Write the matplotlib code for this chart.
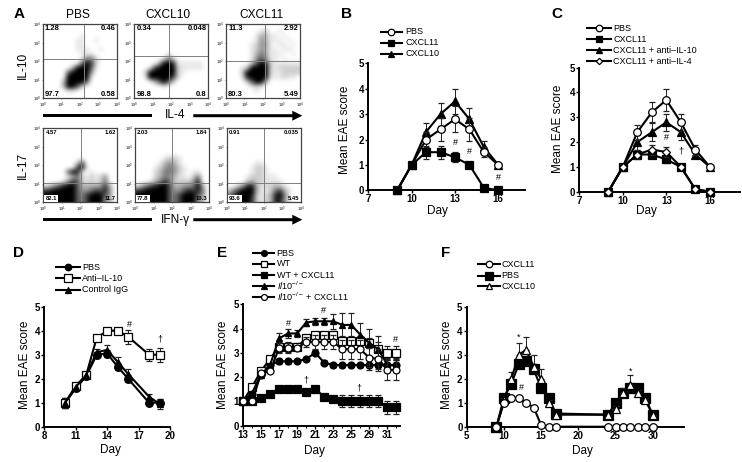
import matplotlib
matplotlib.use("Agg")
import matplotlib.pyplot as plt
from matplotlib.patches import FancyArrow
import numpy as np

plt.rcParams['font.family'] = ['Liberation Sans', 'DejaVu Sans']
plt.rcParams['mathtext.fontset'] = 'custom'
plt.rcParams['mathtext.rm'] = 'Liberation Sans'
plt.rcParams['mathtext.it'] = 'Liberation Sans:italic'

W, H = 742, 462

# panel A, darkness of the dot clouds read by eye, 0 to 9, top row first
blank = "0000000000000000"
il10Pbs = [blank, blank, "0000000010000000", "0000000110010000", "0000000110000000", "0000000111001000",
	"0000000011100000", "0000000015520000", "0000000069720000", "0000003999610000", "0000069999400000",
	"0000099999100000", "0000399996000000", "0000399620000000", "0000011000000000", blank]
il10Cxcl10 = [blank, blank, blank, blank, blank, blank, "0000000100000000", "0000001520000000",
	"0000039981111110", "0001799992111110", "0029999992100000", "0019999972000000", "0000369620000000",
	"0000001000000000", blank, blank]
il10Cxcl11 = [blank, "0000000120010000", "0000001331101000", "0000001431110100", "0000012441011010",
	"0000012431101100", "0000013541110010", "0000014641101000", "0000026982111111", "0001299992122222",
	"0002999992112222", "0001899991112110", "0000269930000000", "0000012100000000", "0000001000000000", blank]
il17Pbs = [blank, blank, blank, blank, blank, blank, blank, "0000000260000000", "0000000791000000",
	"0000069810100000", "0000013521212400", "0000147621212500", "1246899633334730", "7899999644576840",
	"9999999657999640", "9999999657999430"]
il17Cxcl10 = [blank, blank, blank, blank, blank, blank, "0000001221000000", "0000013431000000",
	"0000124542100000", "0000235542101100", "0000235431102500", "0001357522224800", "1357899633445930",
	"7899999644687850", "9999999657999640", "9999999657999430"]
il17Cxcl11 = [blank, blank, blank, blank, blank, blank, blank, "0000001100000000", "0000012210000000",
	"0000012210000000", "0000122211100000", "0000232211110000", "0024883122321000", "2579993112573100",
	"5799982123895100", "6799972123884100"]

il10Labels = [("1.28", "0.46", "97.7", "0.58"), ("0.34", "0.048", "98.8", "0.8"), ("11.3", "2.92", "80.3", "5.49")]
il17Labels = [("4.57", "1.62", "82.1", "11.7"), ("2.03", "1.84", "77.8", "10.3"), ("0.91", "0.035", "93.6", "5.45")]

# panel B
daysB = [9, 10, 11, 12, 13, 14, 15, 16]
pbsB = [0, 1, 2, 2.4, 2.8, 2.4, 1.5, 1]
pbsBErr = [0, 0, 0.3, 0.45, 0.5, 0.45, 0.2, 0]
cxcl11B = [0, 1, 1.5, 1.5, 1.3, 1, 0.1, 0]
cxcl11BErr = [0, 0, 0.25, 0.25, 0.2, 0, 0, 0]
cxcl10B = [0, 1, 2.3, 3, 3.5, 2.8, 1.7, 1]
cxcl10BErr = [0, 0, 0.35, 0.45, 0.5, 0.45, 0.25, 0]

# panel C
daysC = [9, 10, 11, 12, 13, 14, 15, 16]
pbsC = [0, 1, 2.4, 3.2, 3.7, 2.8, 1.7, 1]
pbsCErr = [0, 0, 0.3, 0.4, 0.45, 0.35, 0.2, 0]
cxcl11C = [0, 1, 1.5, 1.5, 1.3, 1, 0.1, 0]
cxcl11CErr = [0, 0, 0.1, 0.15, 0.15, 0, 0, 0]
antiIl10C = [0, 1, 2, 2.4, 2.8, 2.4, 1.5, 1]
antiIl10CErr = [0, 0, 0.3, 0.35, 0.35, 0.3, 0.15, 0]
antiIl4C = [0, 1, 1.5, 1.7, 1.6, 1, 0.1, 0]
antiIl4CErr = [0, 0, 0.2, 0.2, 0.2, 0, 0, 0]

# panel D
daysD = [10, 11, 12, 13, 14, 15, 16, 18, 19]
pbsD = [1, 1.6, 2.1, 3, 3.05, 2.5, 2, 1, 1]
pbsDErr = [0.2, 0.1, 0.1, 0.1, 0.15, 0.15, 0.15, 0.1, 0.15]
antiD = [1, 1.7, 2.15, 3.7, 4, 4, 3.75, 3, 3]
antiDErr = [0.2, 0.1, 0.1, 0.1, 0.05, 0.05, 0.3, 0.25, 0.3]
iggD = [1, 1.65, 2.15, 3.1, 3.2, 2.7, 2.2, 1.25, 0.95]
iggDErr = [0.2, 0.1, 0.1, 0.15, 0.2, 0.2, 0.2, 0.1, 0.2]

# panel E, evenly spaced points, labels skip days
stepsE = list(range(18))
tickStepsE = [0, 2, 4, 6, 8, 10, 12, 14, 16]
tickDaysE = [13, 15, 17, 19, 21, 23, 25, 29, 31]
pbsE = [1, 1.3, 2.1, 2.5, 2.65, 2.65, 2.65, 2.75, 3, 2.6, 2.5, 2.5, 2.5, 2.5, 2.5, 2.5, 2.5, 2.5]
pbsEErr = [0, 0, 0, 0.1, 0.1, 0.1, 0.05, 0.05, 0.1, 0.1, 0.1, 0.1, 0.1, 0.1, 0.2, 0.25, 0.25, 0.25]
wtE = [1, 1.6, 2.25, 2.75, 3.25, 3.25, 3.25, 3.6, 3.75, 3.75, 3.75, 3.5, 3.5, 3.5, 3.4, 3.15, 3, 3]
wtEErr = [0, 0, 0.1, 0.1, 0.2, 0.2, 0.15, 0.1, 0.1, 0.1, 0.15, 0.2, 0.2, 0.2, 0.2, 0.3, 0.3, 0.3]
wtCxclE = [1, 1, 1.15, 1.3, 1.5, 1.5, 1.5, 1.4, 1.5, 1.2, 1.1, 1, 1, 1, 1, 1, 0.75, 0.75]
wtCxclEErr = [0, 0, 0, 0, 0.05, 0.05, 0.05, 0.05, 0.05, 0.05, 0.05, 0.25, 0.25, 0.25, 0.25, 0.25, 0.25, 0.25]
il10E = [1, 1.35, 2.1, 2.5, 3.6, 3.8, 3.8, 4.25, 4.3, 4.3, 4.3, 4.15, 4.15, 3.75, 3.4, 3.15, 2.5, 2.5]
il10EErr = [0, 0, 0, 0, 0.2, 0.2, 0.15, 0.15, 0.15, 0.15, 0.3, 0.5, 0.5, 0.5, 0.6, 0.55, 0.3, 0.3]
il10CxclE = [1, 1, 2.15, 2.25, 3.2, 3.2, 3.2, 3.45, 3.45, 3.45, 3.45, 3.15, 3.15, 3.15, 2.8, 2.75, 2.3, 2.3]
il10CxclEErr = [0, 0, 0.1, 0.1, 0.2, 0.2, 0.1, 0.2, 0.3, 0.3, 0.3, 0.4, 0.4, 0.4, 0.4, 0.4, 0.4, 0.4]

# panel F
daysF = [9, 10, 11, 12, 13, 14, 15, 16, 17, 24, 25, 26, 27, 28, 29, 30]
cxcl11F = [0, 1, 1.2, 1.2, 1, 0.8, 0.07, 0, 0, 0, 0, 0, 0, 0, 0, 0]
pbsF = [0, 1.2, 1.8, 2.6, 2.75, 2.4, 1.6, 1.2, 0.55, 0.5, 1, 1.4, 1.6, 1.6, 1.2, 0.5]
pbsFErr = [0, 0.1, 0.2, 0.2, 0.2, 0.2, 0.1, 0.1, 0, 0, 0.1, 0.1, 0.1, 0.1, 0.1, 0]
cxcl10F = [0, 1.1, 2, 3, 3.2, 2.5, 2, 1, 0.5, 0.5, 0.75, 1.4, 1.75, 1.4, 1.1, 0.5]
cxcl10FErr = [0, 0.1, 0.3, 0.5, 0.55, 0.5, 0.4, 0.1, 0, 0, 0.1, 0.2, 0.4, 0.15, 0.1, 0]

fig = plt.figure(figsize=(W / 100, H / 100), dpi=100)

def pixelAxes(x, y, w, h):
	return fig.add_axes([x / W, 1 - (y + h) / H, w / W, h / H])

# sheet in pixel coordinates for the loose labels and arrows
sheet = fig.add_axes([0, 0, 1, 1], zorder=5)
sheet.set_xlim(0, W)
sheet.set_ylim(H, 0)
sheet.axis('off')

def flowPanel(x, y, grid, quadX, quadY, labels, size, boxed=False):
	ax = pixelAxes(x, y, 74, 74)
	dark = (np.array([[int(c) for c in row] for row in grid]) / 9) ** 1.1
	ax.imshow(dark, cmap='gray_r', vmin=0, vmax=1, extent=(0, 4, 0, 4), aspect='auto', interpolation='bicubic')
	ax.axvline((quadX - x) / 74 * 4, color='#808080', lw=0.7)
	ax.axhline((y + 74 - quadY) / 74 * 4, color='#808080', lw=0.7)
	ax.set_xticks(range(5))
	ax.set_yticks(range(5))
	ax.set_xticklabels(['$10^{%d}$' % i for i in range(5)])
	ax.set_yticklabels(['$10^{%d}$' % i for i in range(5)])
	ax.tick_params(labelsize=2.8, length=1, width=0.4, pad=0.6, color='#444444')
	for s in ax.spines.values():
		s.set_linewidth(0.9)
		s.set_color('#444444')
	box = dict(fc='white', ec='none', pad=0.8) if boxed else None
	ax.text(0.03, 0.94, labels[0], transform=ax.transAxes, fontsize=size, fontweight='bold', va='center')
	ax.text(0.98, 0.94, labels[1], transform=ax.transAxes, fontsize=size, fontweight='bold', va='center', ha='right')
	ax.text(0.03, 0.05, labels[2], transform=ax.transAxes, fontsize=size, fontweight='bold', va='center', bbox=box)
	ax.text(0.98, 0.05, labels[3], transform=ax.transAxes, fontsize=size, fontweight='bold', va='center', ha='right')

flowPanel(42.7, 24.3, il10Pbs, 84.3, 59.3, il10Labels[0], 5.5)
flowPanel(134.3, 24.3, il10Cxcl10, 169.3, 56, il10Labels[1], 5.5)
flowPanel(226, 24.3, il10Cxcl11, 265.3, 61.3, il10Labels[2], 5.5)
flowPanel(43.3, 128, il17Pbs, 81, 183, il17Labels[0], 4.2, True)
flowPanel(135, 128, il17Cxcl10, 172.3, 183, il17Labels[1], 4.2, True)
flowPanel(226.7, 128, il17Cxcl11, 264.3, 183, il17Labels[2], 4.2, True)

def curve(ax, x, y, err, marker, face, ms, upperOnly=False, z=3):
	y = np.array(y, dtype=float)
	if err is None:
		bars = None
	elif upperOnly:
		bars = [np.zeros(len(y)), err]
	else:
		bars = err
	c = ax.errorbar(x, y, yerr=bars, color='black', lw=1.5, marker=marker, ms=ms, mfc=face, mec='black', mew=0.9,
		ecolor='#222222', elinewidth=0.7, capsize=2.5, capthick=0.7, clip_on=False, zorder=z)
	return c[0]

def trendAxes(x, y, w, h, xlim, ticks, labels=None):
	ax = pixelAxes(x, y, w, h)
	ax.set_xlim(*xlim)
	ax.set_ylim(0, 5)
	ax.set_xticks(ticks)
	if labels is not None:
		ax.set_xticklabels(labels)
	ax.set_yticks(range(6))
	for s in ['top', 'right']:
		ax.spines[s].set_visible(False)
	for s in ['left', 'bottom']:
		ax.spines[s].set_linewidth(1.4)
	ax.tick_params(length=2, width=1, pad=1, labelsize=7)
	for t in ax.get_xticklabels() + ax.get_yticklabels():
		t.set_fontweight('bold')
	return ax

def addLegend(handles, names, x0, x1, xText, rows):
	for h, s, y in zip(handles, names, rows):
		sheet.plot([x0, x1], [y, y], color='black', lw=1.5)
		sheet.plot([(x0 + x1) / 2], [y], marker=h.get_marker(), ms=h.get_markersize() * 0.85, mfc=h.get_markerfacecolor(),
			mec='black', mew=0.9, ls='none')
		sheet.text(xText, y, s, va='center', fontsize=6.5)

def marks(ax, items, size=6.5):
	for x, y, s in items:
		ax.text(x, y, s, ha='center', va='center', fontsize=size, zorder=6)

def names(x1, yLabel, x2, yDay):
	sheet.text(x1, yLabel, 'Mean EAE score', rotation=90, ha='center', va='center', fontsize=8.5)
	sheet.text(x2, yDay, 'Day', ha='center', va='center', fontsize=8.5)

# panel B
ax = trendAxes(368.3, 63.3, 156.7, 127, (7, 17.85), [7, 10, 13, 16])
a = curve(ax, daysB, cxcl10B, cxcl10BErr, '^', 'black', 5.5)
b = curve(ax, daysB, pbsB, pbsBErr, 'o', 'white', 5.5, z=4)
c = curve(ax, daysB, cxcl11B, cxcl11BErr, 's', 'black', 5.5, z=5)
addLegend([b, c, a], ['PBS', 'CXCL11', 'CXCL10'], 380.7, 401.7, 405, [32, 42.7, 53.7])
marks(ax, [(13, 1.9, '#'), (14, 1.52, '#'), (16, 0.5, '#')])
names(345, 130, 437.3, 210.7)

# panel C
ax = trendAxes(579.3, 67.7, 160.7, 124, (7, 18.08), [7, 10, 13, 16])
a = curve(ax, daysC, pbsC, pbsCErr, 'o', 'white', 5.5, z=4)
b = curve(ax, daysC, cxcl11C, cxcl11CErr, 's', 'black', 5.5)
c = curve(ax, daysC, antiIl10C, antiIl10CErr, '^', 'black', 5.5)
d = curve(ax, daysC, antiIl4C, antiIl4CErr, 'D', 'white', 3.8, z=5)
addLegend([a, b, c, d], ['PBS', 'CXCL11', 'CXCL11 + anti–IL-10', 'CXCL11 + anti–IL-4'], 587.3, 611, 613, [28.3, 39.3, 50.3, 61.3])
marks(ax, [(13, 2.2, '#'), (14, 1.64, '†')])
names(558, 129, 646.5, 211)

# panel D
ax = trendAxes(44.3, 306.7, 125.7, 120, (8, 20), [8, 11, 14, 17, 20])
a = curve(ax, daysD, pbsD, pbsDErr, 'o', 'black', 5.5)
b = curve(ax, daysD, antiD, antiDErr, 's', 'white', 6)
c = curve(ax, daysD, iggD, iggDErr, '^', 'black', 5)
addLegend([a, b, c], ['PBS', 'Anti–IL-10', 'Control IgG'], 55.7, 80, 82, [267.3, 278.3, 289.7])
marks(ax, [(16.1, 4.26, '#'), (19, 3.64, '†')])
names(25, 365, 110.3, 450)

# panel E
ax = trendAxes(243, 304.3, 157, 121.4, (0, 17.4), tickStepsE, tickDaysE)
ax.set_xticks(stepsE, minor=True)
ax.tick_params(which='minor', length=1.5, width=0.8)
a = curve(ax, stepsE, pbsE, pbsEErr, 'o', 'black', 5)
b = curve(ax, stepsE, wtE, wtEErr, 's', 'white', 5.5)
c = curve(ax, stepsE, wtCxclE, wtCxclEErr, 's', 'black', 5.5)
d = curve(ax, stepsE, il10E, il10EErr, '^', 'black', 5)
e = curve(ax, stepsE, il10CxclE, il10CxclEErr, 'o', 'white', 5, z=4)
addLegend([a, b, c, d, e], ['PBS', 'WT', 'WT + CXCL11', r'$\mathit{Il10}^{-/-}$', r'$\mathit{Il10}^{-/-}$ + CXCL11'],
	253.3, 274.3, 276.7, [253.3, 264, 275.3, 286, 297])
marks(ax, [(5, 4.2, '#'), (8.9, 4.74, '#'), (16.9, 3.56, '#'), (7, 1.9, '†'), (12.9, 1.55, '†')])
names(223, 365, 314, 450.7)

# panel F
ax = trendAxes(466.7, 306.7, 217.3, 120, (5, 34.2), [5, 10, 15, 20, 25, 30])
a = curve(ax, daysF, cxcl11F, None, 'o', 'white', 5.5, z=5)
b = curve(ax, daysF, pbsF, pbsFErr, 's', 'black', 6.5, upperOnly=True)
c = curve(ax, daysF, cxcl10F, cxcl10FErr, '^', 'white', 5.5, upperOnly=True, z=4)
addLegend([a, b, c], ['CXCL11', 'PBS', 'CXCL10'], 478.3, 500, 501, [264.3, 275.7, 286.3])
marks(ax, [(12, 3.72, '*'), (27, 2.3, '*'), (12.3, 1.64, '#')])
names(447, 365, 582, 450.7)

# panel A captions and arrows
for x, s in [(78, 'PBS'), (168, 'CXCL10'), (261.7, 'CXCL11')]:
	sheet.text(x, 15.3, s, ha='center', va='center', fontsize=8.6)
sheet.text(23.3, 65, 'IL-10', rotation=90, ha='center', va='center', fontsize=8.6)
sheet.text(23.3, 165, 'IL-17', rotation=90, ha='center', va='center', fontsize=8.6)
sheet.text(175, 115.5, 'IL-4', ha='center', va='center', fontsize=8.6)
sheet.text(175, 219.5, 'IFN-γ', ha='center', va='center', fontsize=8.6)
for y in [115.7, 219.7]:
	sheet.add_patch(FancyArrow(43.3, y, 109, 0, width=3, head_width=3, head_length=0, color='black', lw=0))
	sheet.add_patch(FancyArrow(193.3, y, 109, 0, width=3, head_width=10, head_length=10, length_includes_head=True, color='black', lw=0))

# panel letters
for x, y, s in [(19, 14, 'A'), (346, 14, 'B'), (556.7, 14, 'C'), (19, 252.7, 'D'), (222.3, 253.3, 'E'), (445.7, 253, 'F')]:
	sheet.text(x, y, s, ha='center', va='center', fontsize=11, fontweight='bold')

plt.savefig('out.png', dpi=100)
